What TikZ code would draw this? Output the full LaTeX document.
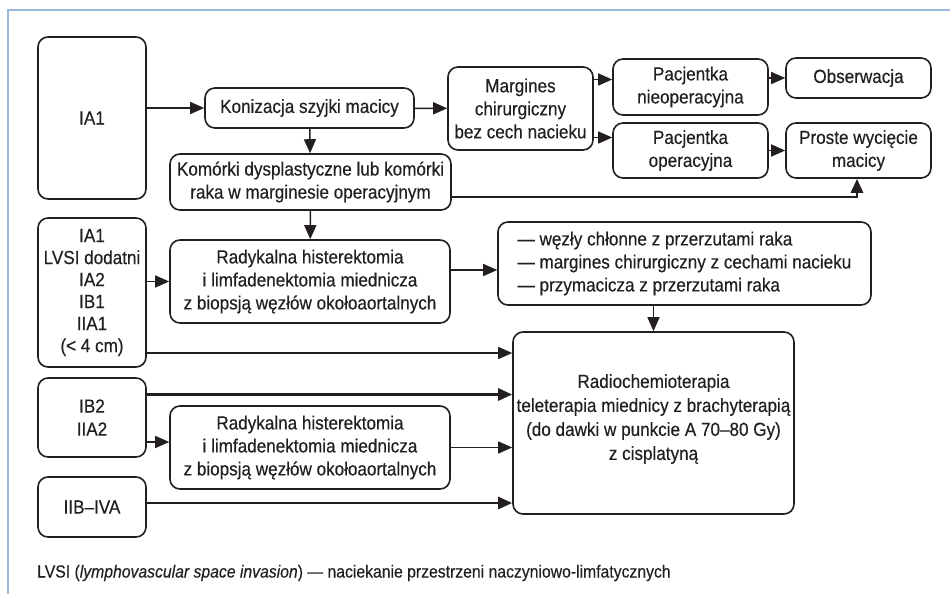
\documentclass[tikz,border=0pt]{standalone}
\usepackage{fontspec}
\setmainfont{Liberation Sans}[FakeStretch=0.9, FakeBold=0.4]
\usetikzlibrary{arrows.meta}

\definecolor{framecol}{RGB}{155,185,220}
\definecolor{ink}{RGB}{35,31,32}

\tikzset{
  box/.style={draw=ink, text=ink, line width=1.6pt, rounded corners=10pt,
    align=center, inner sep=0pt, font=\fontsize{19pt}{23pt}\selectfont},
  arr/.style={draw=ink, line width=1.5pt, -{Triangle[length=14pt,width=12pt]}},
  thickarr/.style={arr, line width=2.8pt}
}

\begin{document}
\begin{tikzpicture}[x=1pt,y=-1pt]
  \useasboundingbox (0,0) rectangle (950,594);
  \draw[framecol, line width=1.5pt] (8,594) -- (8,10) -- (950,10);

  % stages
  \node[box, minimum width=108pt, minimum height=162pt] (ia1) at (92,118) {IA1};
  \node[box, minimum width=108pt, minimum height=149pt, font=\fontsize{19pt}{22pt}\selectfont] (lvsi) at (92,292.5)
    {IA1\\LVSI dodatni\\IA2\\IB1\\IIA1\\(< 4 cm)};
  \node[box, minimum width=108pt, minimum height=79pt] (ib2) at (92,417.5) {IB2\\IIA2};
  \node[box, minimum width=108pt, minimum height=60pt] (iib) at (92,507) {IIB–IVA};

  % top branch
  \node[box, minimum width=209pt, minimum height=40pt] (koni) at (309.5,108) {Konizacja szyjki macicy};
  \node[box, minimum width=145pt, minimum height=83pt] (marg) at (520.5,108.5)
    {Margines\\chirurgiczny\\bez cech nacieku};
  \node[box, minimum width=155pt, minimum height=56pt] (pnieop) at (690.5,87) {Pacjentka\\nieoperacyjna};
  \node[box, minimum width=145pt, minimum height=40pt] (obs) at (858.5,78) {Obserwacja};
  \node[box, minimum width=155pt, minimum height=55pt] (pop) at (690.5,150.5) {Pacjentka\\operacyjna};
  \node[box, minimum width=145pt, minimum height=55pt] (prost) at (858.5,150.5) {Proste wycięcie\\macicy};
  \node[box, minimum width=281pt, minimum height=56pt] (komor) at (310.5,182)
    {Komórki dysplastyczne lub komórki\\raka w marginesie operacyjnym};

  % surgery and radiotherapy
  \node[box, minimum width=280pt, minimum height=83pt] (rad1) at (310,281.5)
    {Radykalna histerektomia\\i limfadenektomia miednicza\\z biopsją węzłów okołoaortalnych};
  \node[box, minimum width=373pt, minimum height=83pt, align=left] (wez) at (684.5,263.5)
    {— węzły chłonne z przerzutami raka\\— margines chirurgiczny z cechami nacieku\\— przymacicza z przerzutami raka};
  \node[box, minimum width=280pt, minimum height=83pt] (rad2) at (310,447.5)
    {Radykalna histerektomia\\i limfadenektomia miednicza\\z biopsją węzłów okołoaortalnych};
  \node[box, minimum width=281pt, minimum height=182pt, font=\fontsize{19pt}{24pt}\selectfont] (radio) at (653.5,423)
    {Radiochemioterapia\\teleterapia miednicy z brachyterapią\\(do dawki w punkcie A 70–80 Gy)\\z cisplatyną\\[-12pt]};

  \node[anchor=west, text=ink, inner sep=0pt, font=\fontsize{17.5pt}{21pt}\selectfont] (note) at (37,573)
    {LVSI (\textit{lymphovascular space invasion}) — naciekanie przestrzeni naczyniowo-limfatycznych};

  % connectors
  \draw[arr] (ia1.east |- koni.west) -- (koni.west);
  \draw[arr] (koni) -- (marg);
  \draw[arr] (koni) -- (komor);
  \draw[arr] ([yshift=29pt]marg.east) -- ([yshift=29pt]marg.east -| pnieop.west);
  \draw[arr] ([yshift=-29pt]marg.east) -- ([yshift=-29pt]marg.east -| pop.west);
  \draw[arr] (pnieop.east |- obs.west) -- (obs.west);
  \draw[arr] (pop) -- (prost);
  \draw[thickarr] ([yshift=-15pt]komor.east) -| ([xshift=-1.5pt]prost.south);
  \draw[arr] (komor) -- (rad1);
  \draw[arr] (lvsi.east |- rad1.west) -- (rad1.west);
  \draw[arr] ([yshift=11.5pt]rad1.east) -- ([yshift=11.5pt]rad1.east -| wez.west);
  \draw[arr] (radio.north |- wez.south) -- (radio.north);
  \draw[arr] ([yshift=-60.5pt]lvsi.east) -- ([yshift=-60.5pt]lvsi.east -| radio.west);
  \draw[thickarr] ([yshift=23pt]ib2.east) -- ([yshift=23pt]ib2.east -| radio.west);
  \draw[arr] ([yshift=-24.5pt]ib2.east) -- ([yshift=-24.5pt]ib2.east -| rad2.west);
  \draw[arr] (rad2) -- (rad2 -| radio.west);
  \draw[thickarr] ([yshift=4pt]iib.east) -- ([yshift=4pt]iib.east -| radio.west);
\end{tikzpicture}
\end{document}
